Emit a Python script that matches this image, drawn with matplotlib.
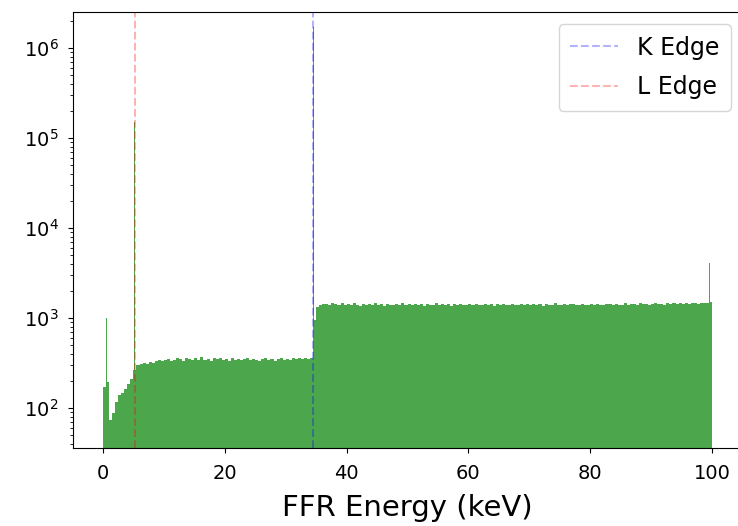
#!/usr/bin/env python
# -*- coding: utf-8 -*-

import numpy
import matplotlib
matplotlib.use('Agg')
import matplotlib.pyplot as plt

# histogram counts in 0.5 keV bins, 0 - 100 keV
bin_width = 0.5
counts_low = [170, 195, 74, 88, 118, 140, 148, 162, 185, 210,
              262, 298, 305, 318, 312, 326, 320, 331, 338, 329]
counts_mid = [345, 352, 336, 341, 358, 347, 333, 362, 349, 340,
              355, 338, 366, 344, 351, 337, 359, 346, 362, 341,
              348, 335, 356, 343, 352, 339, 347, 361, 338, 353,
              344, 332, 349, 357, 341, 350, 336, 348, 363, 345,
              352, 340, 358, 346, 355, 349, 362, 351, 357]
counts_edge = [950]
counts_high = [1320, 1380, 1415, 1440, 1395, 1460, 1420, 1385, 1450, 1405,
               1430, 1390, 1465, 1410, 1375, 1445, 1400, 1425, 1380, 1455,
               1395, 1420, 1370, 1440, 1410, 1385, 1435, 1400, 1460, 1390,
               1415, 1380, 1445, 1405, 1425, 1370, 1435, 1395, 1410, 1450,
               1385, 1420, 1400, 1440, 1375, 1415, 1390, 1430, 1405, 1380,
               1425, 1395, 1445, 1410, 1385, 1420, 1400, 1435, 1375, 1415,
               1390, 1430, 1405, 1380, 1440, 1410, 1395, 1425, 1385, 1415,
               1400, 1445, 1390, 1420, 1375, 1430, 1405, 1385, 1450, 1410,
               1395, 1425, 1380, 1415, 1440, 1400, 1385, 1430, 1410, 1395,
               1420, 1390, 1435, 1405, 1380, 1445, 1415, 1400, 1425, 1390,
               1410, 1460, 1395, 1430, 1420, 1405, 1450, 1415, 1440, 1400,
               1435, 1455, 1420, 1445, 1410, 1465, 1430, 1450, 1425, 1470,
               1440, 1460, 1430, 1475, 1450, 1445, 1480, 1455, 1465, 1490]

# narrow fluorescence / edge spikes
spike_energy = [0.6, 5.2, 34.55, 99.55]
spike_counts = [1000, 1.5e5, 1.7e6, 4100]
spike_width = 0.25

k_edge = 34.56
l_edge = 5.2

GREEN = '#4ca64c'


def createHistogram(out_path='out.png'):
    counts = numpy.array(counts_low + counts_mid + counts_edge + counts_high, dtype=float)
    edges = numpy.arange(len(counts) + 1) * bin_width

    fig = plt.figure(figsize=(7.38, 5.26), dpi=100)
    # the right spine falls just outside the picture, like in the original crop
    ax = fig.add_axes([72.5 / 738., 78 / 526., 670 / 738., 436 / 526.])

    ax.stairs(counts, edges, fill=True, color=GREEN, baseline=1)
    ax.bar(spike_energy, spike_counts, width=spike_width, color=GREEN, linewidth=0)

    ax.axvline(k_edge, color='blue', alpha=0.3, linestyle='--', label='K Edge')
    ax.axvline(l_edge, color='red', alpha=0.3, linestyle='--', label='L Edge')

    ax.set_yscale('log')
    ax.set_ylim(36, 2.5e6)
    ax.set_xlim(-5, 105)
    ax.set_xticks([0, 20, 40, 60, 80, 100])
    ax.tick_params(labelsize=14)
    ax.tick_params(axis='x', pad=8)
    ax.tick_params(axis='y', which='major', pad=6.5)
    ax.set_xlabel('FFR Energy (keV)', fontsize=21, labelpad=8)
    ax.legend(loc='upper right', fontsize=17, borderpad=0.5, labelspacing=0.65,
              handletextpad=0.8)

    plt.savefig(out_path)


if __name__ == '__main__':
    createHistogram()
